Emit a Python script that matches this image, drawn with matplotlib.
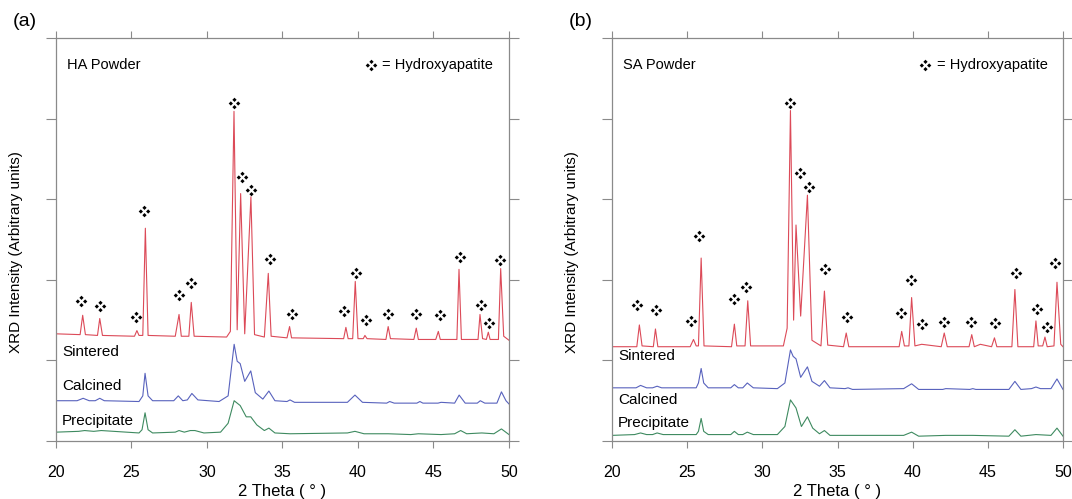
#!/usr/bin/env python3
# -*- coding: utf-8 -*-

import matplotlib
matplotlib.use('Agg')
import matplotlib.pyplot as plt
from matplotlib.path import Path

plt.rcParams['font.family'] = ['Liberation Sans', 'DejaVu Sans']

# ---- (a) HA powder : vertices (2 theta, intensity) ----
a_sint_x = [20.0, 21.6, 21.77, 21.95, 22.75, 22.9, 23.08, 25.2, 25.36, 25.5,
            25.75, 25.92, 26.1, 27.9, 28.15, 28.3, 28.8, 28.96, 29.15, 31.3,
            31.55, 31.79, 32.0, 32.23, 32.5, 32.91, 33.15, 33.8, 34.06, 34.25,
            35.3, 35.47, 35.6, 39.05, 39.2, 39.35, 39.65, 39.82, 40.0, 40.35,
            40.46, 40.6, 41.85, 42.0, 42.15, 43.7, 43.86, 44.0, 45.15, 45.32,
            45.45, 46.55, 46.69, 46.85, 47.95, 48.08, 48.25, 48.5, 48.63, 48.75,
            49.3, 49.45, 49.65, 50.0]
a_sint_y = [1.33, 1.32, 1.56, 1.32, 1.31, 1.52, 1.31, 1.30, 1.37, 1.31,
            1.31, 2.64, 1.31, 1.30, 1.57, 1.30, 1.30, 1.72, 1.30, 1.29,
            1.36, 4.09, 1.38, 3.07, 1.33, 3.03, 1.32, 1.29, 2.08, 1.30,
            1.28, 1.42, 1.28, 1.27, 1.41, 1.27, 1.27, 1.98, 1.27, 1.27,
            1.31, 1.27, 1.26, 1.42, 1.27, 1.26, 1.40, 1.26, 1.26, 1.36,
            1.26, 1.26, 2.13, 1.26, 1.26, 1.57, 1.27, 1.26, 1.35, 1.26,
            1.26, 2.14, 1.30, 1.25]

a_calc_x = [20.0, 21.4, 21.8, 22.2, 22.6, 22.9, 23.2, 25.5, 25.75, 25.9,
            26.1, 26.4, 27.8, 28.1, 28.4, 28.7, 29.0, 29.4, 30.8, 31.4,
            31.8, 32.0, 32.2, 32.5, 32.9, 33.2, 33.7, 34.1, 34.5, 35.3,
            35.5, 35.8, 39.3, 39.8, 40.3, 41.9, 42.1, 42.4, 43.9, 44.1,
            44.3, 45.3, 45.5, 46.4, 46.7, 47.1, 47.9, 48.1, 48.4, 49.2,
            49.5, 49.8, 50.0]
a_calc_y = [0.50, 0.50, 0.53, 0.50, 0.50, 0.53, 0.50, 0.49, 0.56, 0.84,
            0.56, 0.50, 0.50, 0.56, 0.50, 0.51, 0.59, 0.51, 0.49, 0.56,
            1.20, 0.99, 0.96, 0.74, 0.87, 0.60, 0.52, 0.62, 0.50, 0.49,
            0.51, 0.48, 0.48, 0.57, 0.48, 0.47, 0.49, 0.47, 0.47, 0.49,
            0.47, 0.47, 0.48, 0.47, 0.57, 0.47, 0.47, 0.50, 0.47, 0.47,
            0.61, 0.50, 0.46]

a_prec_x = [20.0, 21.5, 21.9, 22.5, 23.0, 25.5, 25.7, 25.9, 26.1, 26.4,
            27.9, 28.15, 28.5, 28.9, 29.2, 29.8, 30.9, 31.4, 31.8, 32.2,
            32.6, 32.9, 33.3, 33.8, 34.1, 34.5, 35.5, 39.3, 39.8, 40.4,
            42.0, 43.5, 44.0, 45.5, 46.4, 46.8, 47.2, 48.2, 49.0, 49.5, 50.0]
a_prec_y = [0.11, 0.12, 0.13, 0.12, 0.13, 0.10, 0.14, 0.35, 0.14, 0.10,
            0.11, 0.13, 0.11, 0.13, 0.13, 0.10, 0.11, 0.22, 0.50, 0.44,
            0.30, 0.30, 0.20, 0.13, 0.16, 0.10, 0.09, 0.10, 0.12, 0.09,
            0.09, 0.08, 0.09, 0.08, 0.09, 0.13, 0.09, 0.10, 0.09, 0.15, 0.08]

a_mark_x = [21.66, 22.94, 25.28, 25.83, 28.17, 28.94, 31.79, 32.32, 32.91, 34.17,
            35.6, 39.07, 39.85, 40.5, 42.0, 43.85, 45.43, 46.75, 48.15, 48.68, 49.4]
a_mark_y = [1.74, 1.67, 1.54, 2.86, 1.81, 1.96, 4.20, 3.28, 3.11, 2.26,
            1.58, 1.61, 2.09, 1.50, 1.57, 1.57, 1.56, 2.28, 1.69, 1.46, 2.25]

# ---- (b) SA powder ----
b_sint_x = [20.0, 21.65, 21.82, 22.0, 22.75, 22.89, 23.05, 25.2, 25.42, 25.6,
            25.75, 25.93, 26.12, 27.95, 28.14, 28.3, 28.85, 29.03, 29.22, 31.4,
            31.65, 31.87, 32.08, 32.24, 32.55, 33.0, 33.3, 33.9, 34.13, 34.35,
            35.4, 35.58, 35.75, 39.1, 39.27, 39.45, 39.75, 39.93, 40.15, 40.6,
            41.9, 42.1, 42.3, 43.75, 43.93, 44.1, 44.5, 45.25, 45.44, 45.6,
            46.6, 46.8, 47.0, 48.05, 48.2, 48.35, 48.65, 48.8, 48.95, 49.4,
            49.6, 49.85, 50.0]
b_sint_y = [1.17, 1.17, 1.44, 1.18, 1.17, 1.39, 1.17, 1.17, 1.26, 1.18,
            1.18, 2.27, 1.18, 1.17, 1.45, 1.18, 1.18, 1.74, 1.18, 1.18,
            1.40, 4.10, 1.50, 2.68, 1.55, 3.05, 1.25, 1.18, 1.86, 1.19,
            1.17, 1.34, 1.17, 1.17, 1.36, 1.18, 1.18, 1.78, 1.18, 1.20,
            1.17, 1.34, 1.17, 1.17, 1.32, 1.17, 1.20, 1.17, 1.28, 1.17,
            1.17, 1.88, 1.17, 1.17, 1.49, 1.18, 1.18, 1.29, 1.17, 1.18,
            1.97, 1.20, 1.17]

b_calc_x = [20.0, 21.6, 21.9, 22.3, 22.7, 23.0, 23.3, 25.6, 25.75, 25.93,
            26.1, 26.4, 27.9, 28.14, 28.4, 28.7, 29.0, 29.4, 31.0, 31.5,
            31.87, 32.05, 32.24, 32.55, 33.0, 33.3, 33.8, 34.13, 34.5, 35.5,
            35.7, 36.0, 39.4, 39.93, 40.4, 42.0, 42.2, 43.8, 44.0, 44.2,
            46.4, 46.8, 47.2, 47.9, 48.2, 48.5, 49.2, 49.6, 50.0]
b_calc_y = [0.66, 0.66, 0.69, 0.66, 0.66, 0.68, 0.66, 0.66, 0.72, 0.90,
            0.72, 0.66, 0.66, 0.70, 0.66, 0.66, 0.72, 0.66, 0.65, 0.72,
            1.13, 1.05, 1.02, 0.79, 0.92, 0.74, 0.68, 0.75, 0.66, 0.65,
            0.66, 0.64, 0.65, 0.71, 0.64, 0.64, 0.65, 0.64, 0.65, 0.64,
            0.64, 0.74, 0.64, 0.65, 0.67, 0.65, 0.65, 0.77, 0.64]

b_prec_x = [20.0, 21.5, 21.9, 22.3, 22.7, 23.0, 23.4, 25.6, 25.75, 25.93,
            26.1, 26.4, 27.9, 28.14, 28.4, 28.7, 29.0, 29.4, 31.0, 31.5,
            31.87, 32.24, 32.6, 33.0, 33.35, 33.8, 34.13, 34.5, 39.4, 39.93,
            40.4, 42.2, 44.0, 46.4, 46.8, 47.2, 48.2, 49.2, 49.6, 50.0]
b_prec_y = [0.07, 0.08, 0.10, 0.08, 0.08, 0.10, 0.08, 0.08, 0.12, 0.28,
            0.12, 0.08, 0.08, 0.12, 0.08, 0.08, 0.11, 0.08, 0.08, 0.18,
            0.51, 0.41, 0.18, 0.30, 0.16, 0.09, 0.13, 0.07, 0.07, 0.11,
            0.06, 0.07, 0.07, 0.06, 0.14, 0.06, 0.08, 0.07, 0.16, 0.06]

b_mark_x = [21.64, 22.91, 25.26, 25.82, 28.14, 28.92, 31.85, 32.53, 33.1, 34.2,
            35.64, 39.23, 39.89, 40.59, 42.08, 43.89, 45.46, 46.86, 48.24, 48.92, 49.47]
b_mark_y = [1.69, 1.62, 1.49, 2.54, 1.76, 1.91, 4.19, 3.33, 3.15, 2.13,
            1.54, 1.59, 2.00, 1.45, 1.48, 1.48, 1.46, 2.08, 1.64, 1.41, 2.21]

x_ticks = [20, 25, 30, 35, 40, 45, 50]
y_ticks = [0, 1, 2, 3, 4, 5]

RED = '#dc4a58'
BLUE = '#5862bd'
GREEN = '#3e8a60'
GREY = '#8a8a8a'


def four_dot_marker():
    # four small diamonds arranged in a diamond, like the phase symbol
    verts = []
    codes = []
    r = 0.36
    for cx, cy in [(0, 0.62), (0.62, 0), (0, -0.62), (-0.62, 0)]:
        verts += [(cx, cy + r), (cx + r, cy), (cx, cy - r), (cx - r, cy), (cx, cy + r)]
        codes += [Path.MOVETO, Path.LINETO, Path.LINETO, Path.LINETO, Path.CLOSEPOLY]
    return Path(verts, codes)


MARK = four_dot_marker()


def draw_panel(ax, curves, mark_x, mark_y, powder, label_y, panel_letter):
    for (x, y), color in zip(curves, [RED, BLUE, GREEN]):
        ax.plot(x, y, color=color, lw=0.8)

    ax.scatter(mark_x, mark_y, marker=MARK, s=70, color='black', lw=0, zorder=3)

    ax.set_xlim(20, 50)
    ax.set_ylim(0, 5)
    ax.set_xticks(x_ticks)
    ax.set_yticks(y_ticks)
    ax.set_yticklabels([])
    ax.tick_params(axis='both', direction='out', color=GREY, labelsize=11.5,
                   top=True, right=True, labeltop=False)
    ax.tick_params(axis='y', length=7)
    ax.tick_params(axis='x', length=5, pad=12)
    for sp in ax.spines.values():
        sp.set_color(GREY)
        sp.set_linewidth(0.9)

    ax.text(0.025, 0.933, powder, transform=ax.transAxes, fontsize=10.5,
            va='center', ha='left')
    ax.scatter([0.695], [0.933], marker=MARK, s=70, color='black', lw=0,
               transform=ax.transAxes, clip_on=False)
    ax.text(0.72, 0.933, '= Hydroxyapatite', transform=ax.transAxes,
            fontsize=10.5, va='center', ha='left')

    for name, yy in zip(['Sintered', 'Calcined', 'Precipitate'], label_y):
        ax.text(20.4, yy, name, fontsize=11, va='center', ha='left')

    ax.text(0.5, -0.125, u'2 Theta ( \u00b0 )', transform=ax.transAxes,
            fontsize=12, ha='center', va='center')
    ax.text(-0.088, 0.47, 'XRD Intensity (Arbitrary units)',
            transform=ax.transAxes, fontsize=11, rotation=90,
            ha='center', va='center')
    ax.text(-0.095, 1.04, panel_letter, transform=ax.transAxes, fontsize=14,
            ha='left', va='center')


fig = plt.figure(figsize=(10.72, 4.99), dpi=100)
ax_a = fig.add_axes([0.0522, 0.1162, 0.4226, 0.8076])
ax_b = fig.add_axes([0.5709, 0.1162, 0.4207, 0.8076])

draw_panel(ax_a,
           [(a_sint_x, a_sint_y), (a_calc_x, a_calc_y), (a_prec_x, a_prec_y)],
           a_mark_x, a_mark_y, 'HA Powder', [1.11, 0.68, 0.25], '(a)')
draw_panel(ax_b,
           [(b_sint_x, b_sint_y), (b_calc_x, b_calc_y), (b_prec_x, b_prec_y)],
           b_mark_x, b_mark_y, 'SA Powder', [1.06, 0.51, 0.22], '(b)')

plt.savefig('out.png', dpi=100)
plt.close('all')
